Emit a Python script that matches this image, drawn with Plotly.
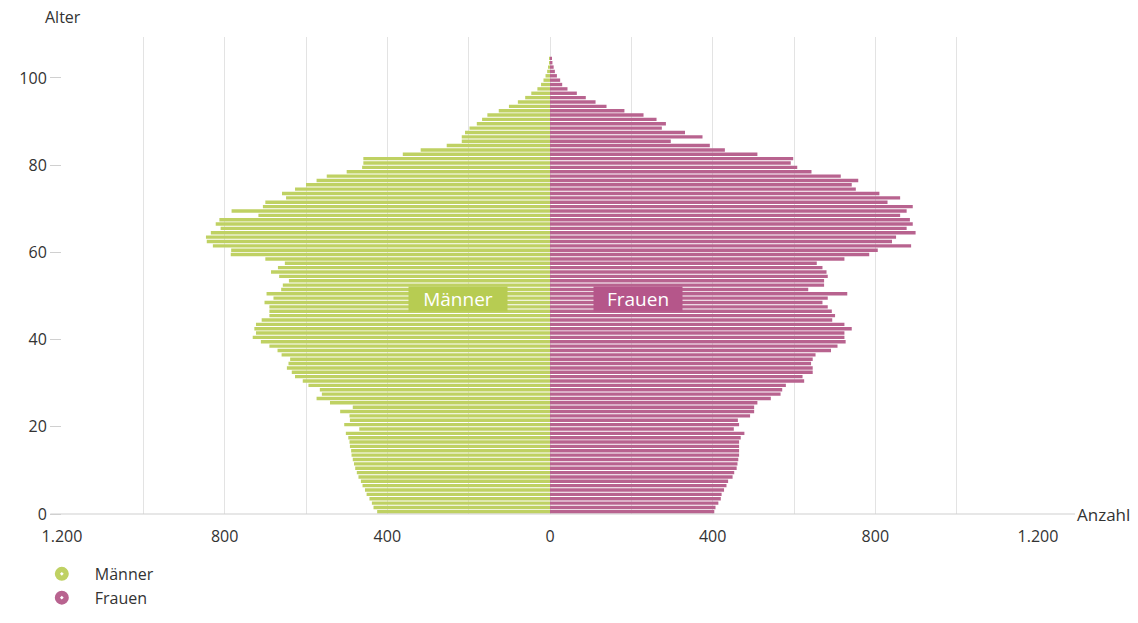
import plotly.graph_objects as go

ages = list(range(0, 105))

maenner = [425, 434, 438, 444, 451, 455, 461, 465, 471, 475,
           479, 482, 485, 488, 489, 492, 493, 496, 502, 469,
           506, 492, 493, 516, 485, 541, 574, 561, 566, 594,
           608, 627, 635, 647, 643, 639, 660, 670, 690, 711,
           731, 723, 727, 723, 709, 690, 690, 690, 702, 680,
           697, 661, 657, 642, 666, 686, 669, 652, 700, 785,
           784, 829, 844, 846, 834, 810, 822, 813, 717, 783,
           706, 700, 649, 659, 627, 600, 574, 549, 500, 462,
           459, 459, 362, 318, 254, 217, 217, 209, 198, 180,
           167, 154, 126, 101, 79, 61, 46, 31, 22, 16,
           11, 7, 4, 2, 1]

frauen = [404, 407, 414, 420, 422, 428, 434, 438, 449, 453,
          459, 461, 463, 465, 465, 465, 465, 469, 478, 452,
          465, 462, 492, 502, 502, 510, 543, 567, 571, 580,
          625, 621, 646, 646, 642, 646, 653, 691, 707, 727,
          724, 724, 742, 724, 694, 701, 693, 683, 670, 683,
          731, 635, 674, 674, 683, 680, 670, 656, 724, 785,
          806, 888, 841, 851, 899, 877, 892, 885, 861, 877,
          892, 830, 861, 810, 752, 742, 758, 715, 643, 608,
          592, 598, 510, 430, 393, 297, 375, 332, 275, 285,
          262, 230, 183, 139, 112, 88, 66, 43, 30, 25,
          17, 12, 9, 6, 4]

x_tickvals = [-1200, -1000, -800, -600, -400, -200, 0, 200, 400, 600, 800, 1000, 1200]
x_ticktext = ["1.200", "", "800", "", "400", "", "0", "", "400", "", "800", "", "1.200"]
y_tickvals = [0, 20, 40, 60, 80, 100]

GREEN = "#bfd163"
PINK = "#b8638f"
FONT = "Open Sans"
TXT = "#333333"

y_pos = [a + 0.5 for a in ages]

fig = go.Figure()
fig.add_trace(go.Bar(y=y_pos, x=[-v for v in maenner], orientation="h",
                     marker=dict(color=GREEN, line=dict(width=0)),
                     name="Männer", showlegend=False))
fig.add_trace(go.Bar(y=y_pos, x=frauen, orientation="h",
                     marker=dict(color=PINK, line=dict(width=0)),
                     name="Frauen", showlegend=False))
# legend entries (donut markers)
fig.add_trace(go.Scatter(x=[None], y=[None], mode="markers", name="Männer",
                         marker=dict(symbol="circle-dot", size=16, color=GREEN,
                                     line=dict(color="white", width=2))))
fig.add_trace(go.Scatter(x=[None], y=[None], mode="markers", name="Frauen",
                         marker=dict(symbol="circle-dot", size=16, color=PINK,
                                     line=dict(color="white", width=2))))

fig.update_layout(
    width=1138, height=623,
    margin=dict(l=54, r=108, t=29, b=117),
    paper_bgcolor="white", plot_bgcolor="white",
    barmode="overlay", bargap=0.22,
    font=dict(family=FONT, size=16, color=TXT),
    legend=dict(x=-0.034, y=-0.09, xanchor="left", yanchor="top",
                font=dict(size=16, color=TXT), tracegroupgap=0,
                itemwidth=56, bgcolor="rgba(0,0,0,0)"),
    xaxis=dict(range=[-1200, 1200], tickvals=x_tickvals, ticktext=x_ticktext,
               showgrid=True, gridcolor="#e3e3e3", gridwidth=1,
               zeroline=False, showline=False,
               ticks="outside", ticklen=8, tickcolor="rgba(0,0,0,0)",
               tickfont=dict(size=16, color=TXT)),
    yaxis=dict(range=[0, 109.4], tickvals=y_tickvals,
               showgrid=False, zeroline=False, showline=False,
               ticks="outside", ticklen=11, tickcolor="#d0d0d0",
               tickfont=dict(size=16, color=TXT)),
    shapes=[dict(type="line", xref="paper", yref="paper",
                 x0=-0.012, x1=1.038, y0=0, y1=0,
                 line=dict(color="#cfcfcf", width=1))],
    annotations=[
        dict(text="Alter", xref="paper", yref="paper", x=-0.0195, y=1.042,
             xanchor="left", yanchor="middle", showarrow=False,
             font=dict(size=16, color=TXT)),
        dict(text="Anzahl", xref="paper", yref="paper", x=1.038, y=0,
             xanchor="left", yanchor="middle", showarrow=False,
             font=dict(size=17, color=TXT)),
        dict(text="Männer", x=-226, y=49.3, xref="x", yref="y",
             showarrow=False, font=dict(size=19, color="white"),
             bgcolor="#b7cc52", borderpad=1, width=96, height=22),
        dict(text="Frauen", x=216, y=49.3, xref="x", yref="y",
             showarrow=False, font=dict(size=19, color="white"),
             bgcolor="#b5568a", borderpad=1, width=86, height=22),
    ],
)

fig.write_html("out.html")
